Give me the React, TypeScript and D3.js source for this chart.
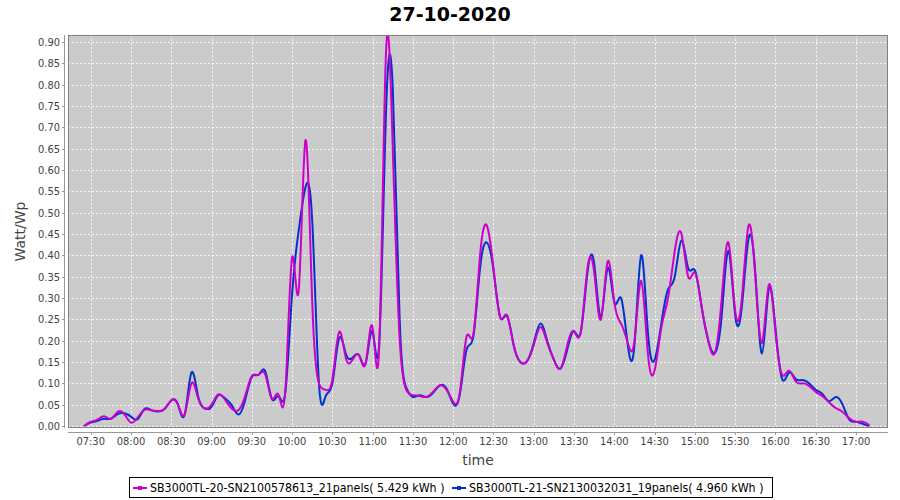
import React from "react";
import * as d3 from "d3";

const times: string[] = [
  "07:25","07:30","07:35","07:40","07:45","07:50","07:55","08:00","08:05","08:10","08:15","08:20","08:25","08:30","08:35","08:40","08:45","08:50","08:55",
  "09:00","09:05","09:10","09:15","09:20","09:25","09:30","09:35","09:40","09:45","09:50","09:55",
  "10:00","10:05","10:10","10:15","10:20","10:25","10:30","10:35","10:40","10:45","10:50","10:55",
  "11:00","11:05","11:10","11:15","11:20","11:25","11:30","11:35","11:40","11:45","11:50","11:55",
  "12:00","12:05","12:10","12:15","12:20","12:25","12:30","12:35","12:40","12:45","12:50","12:55",
  "13:00","13:05","13:10","13:15","13:20","13:25","13:30","13:35","13:40","13:45","13:50","13:55",
  "14:00","14:05","14:10","14:15","14:20","14:25","14:30","14:35","14:40","14:45","14:50","14:55",
  "15:00","15:05","15:10","15:15","15:20","15:25","15:30","15:35","15:40","15:45","15:50","15:55",
  "16:00","16:05","16:10","16:15","16:20","16:25","16:30","16:35","16:40","16:45","16:50","16:55",
  "17:00","17:05","17:10"
];

const seriesMagenta: number[] = [
  0.000,0.010,0.015,0.023,0.017,0.033,0.028,0.008,0.020,0.038,0.037,0.035,0.040,0.060,0.050,0.027,0.100,0.065,0.041,
  0.050,0.074,0.062,0.041,0.037,0.070,0.117,0.120,0.121,0.063,0.073,0.085,
  0.395,0.320,0.670,0.290,0.100,0.085,0.110,0.220,0.160,0.155,0.165,0.150,
  0.230,0.195,0.880,0.650,0.210,0.085,0.072,0.070,0.068,0.080,0.095,0.085,
  0.057,0.080,0.210,0.215,0.400,0.470,0.370,0.255,0.260,0.190,0.150,0.152,
  0.190,0.232,0.195,0.155,0.135,0.190,0.222,0.220,0.370,0.360,0.250,0.385,
  0.290,0.240,0.195,0.200,0.340,0.170,0.130,0.230,0.300,0.410,0.450,0.350,
  0.360,0.280,0.200,0.172,0.300,0.430,0.270,0.300,0.470,0.350,0.195,0.330,
  0.220,0.120,0.130,0.105,0.100,0.094,0.080,0.070,0.055,0.042,0.033,0.018,
  0.010,0.010,0.002
];

const seriesBlue: number[] = [
  0.000,0.008,0.012,0.017,0.017,0.028,0.030,0.022,0.016,0.040,0.037,0.034,0.040,0.060,0.050,0.027,0.125,0.070,0.041,
  0.045,0.072,0.065,0.049,0.027,0.060,0.115,0.120,0.128,0.063,0.070,0.080,
  0.310,0.460,0.560,0.480,0.100,0.070,0.100,0.205,0.170,0.160,0.165,0.150,
  0.220,0.200,0.740,0.790,0.260,0.090,0.068,0.072,0.068,0.078,0.095,0.088,
  0.052,0.075,0.180,0.210,0.370,0.430,0.365,0.255,0.258,0.190,0.150,0.152,
  0.195,0.240,0.200,0.155,0.135,0.180,0.222,0.220,0.360,0.380,0.255,0.370,
  0.290,0.300,0.190,0.190,0.400,0.220,0.155,0.240,0.320,0.350,0.435,0.370,
  0.365,0.280,0.200,0.172,0.260,0.410,0.260,0.280,0.440,0.360,0.170,0.320,
  0.230,0.110,0.125,0.110,0.108,0.100,0.085,0.075,0.058,0.068,0.050,0.015,
  0.010,0.005,0.000
];

const xTickLabels: string[] = [
  "07:30","08:00","08:30","09:00","09:30","10:00","10:30","11:00","11:30","12:00",
  "12:30","13:00","13:30","14:00","14:30","15:00","15:30","16:00","16:30","17:00"
];

const yTicks: number[] = [0,0.05,0.1,0.15,0.2,0.25,0.3,0.35,0.4,0.45,0.5,0.55,0.6,0.65,0.7,0.75,0.8,0.85,0.9];

const seriesNames: string[] = [
  "SB3000TL-20-SN2100578613_21panels( 5.429 kWh )",
  "SB3000TL-21-SN2130032031_19panels( 4.960 kWh )"
];
const seriesColors: string[] = ["#CC00CC", "#0033CC"];

const title = "27-10-2020";
const xLabel = "time";
const yLabel = "Watt/Wp";

const toMin = (s: string) => {
  const [h, m] = s.split(":").map(Number);
  return h * 60 + m;
};

const W = 900, H = 500;
const plot = { left: 68, right: 888, top: 35, bottom: 428 };
const smallFont = "'DejaVu Sans Condensed', 'Liberation Sans', Arial, sans-serif";
const mainFont = "'DejaVu Sans', sans-serif";

export default function App() {
  const x = d3.scaleLinear().domain([toMin("07:30"), toMin("17:00")]).range([90.7, 856]);
  const y = d3.scaleLinear().domain([0, 0.9]).range([426, 42]);

  const line = d3
    .line<[number, number]>()
    .x((d) => x(d[0]))
    .y((d) => y(d[1]))
    .curve(d3.curveNatural);

  const mins = times.map(toMin);
  const mData = mins.map((t, i) => [t, seriesMagenta[i]] as [number, number]);
  const bData = mins.map((t, i) => [t, seriesBlue[i]] as [number, number]);

  const axisX = plot.bottom + 4;
  const axisY = plot.left - 4;

  return (
    <svg width={W} height={H} style={{ position: "absolute", left: 0, top: 0, background: "#fff" }}>
      <defs>
        <clipPath id="plotClip">
          <rect x={plot.left} y={plot.top} width={plot.right - plot.left} height={plot.bottom - plot.top} />
        </clipPath>
      </defs>
      <text x={W / 2} y={21} textAnchor="middle" fontFamily={mainFont} fontWeight="bold" fontSize={19} fill="#000">
        {title}
      </text>
      <rect x={plot.left} y={plot.top} width={plot.right - plot.left} height={plot.bottom - plot.top} fill="#CBCBCB" />
      {yTicks.map((v) => (
        <line key={"gy" + v} x1={plot.left} x2={plot.right} y1={Math.round(y(v)) + 0.5} y2={Math.round(y(v)) + 0.5}
          stroke="#fff" strokeWidth={0.8} strokeDasharray="2,2" />
      ))}
      {xTickLabels.map((s) => (
        <line key={"gx" + s} x1={Math.round(x(toMin(s))) + 0.5} x2={Math.round(x(toMin(s))) + 0.5} y1={plot.top} y2={plot.bottom}
          stroke="#fff" strokeWidth={0.8} strokeDasharray="2,2" />
      ))}
      <g clipPath="url(#plotClip)">
        <path d={line(bData) || ""} fill="none" stroke={seriesColors[1]} strokeWidth={2} strokeLinejoin="round" />
        <path d={line(mData) || ""} fill="none" stroke={seriesColors[0]} strokeWidth={2} strokeLinejoin="round" />
      </g>
      <rect x={plot.left + 0.5} y={plot.top + 0.5} width={plot.right - plot.left - 1} height={plot.bottom - plot.top - 1}
        fill="none" stroke="#808080" strokeWidth={1} />
      {/* y axis */}
      <line x1={axisY + 0.5} x2={axisY + 0.5} y1={plot.top} y2={plot.bottom} stroke="#999" />
      {yTicks.map((v) => (
        <g key={"ty" + v}>
          <line x1={axisY - 2} x2={axisY} y1={Math.round(y(v)) + 0.5} y2={Math.round(y(v)) + 0.5} stroke="#999" />
          <text x={axisY - 4} y={y(v)} dy="0.35em" textAnchor="end" fontFamily={smallFont} fontSize={11} fill="#444">
            {v.toFixed(2)}
          </text>
        </g>
      ))}
      {/* x axis */}
      <line x1={plot.left} x2={plot.right} y1={axisX + 0.5} y2={axisX + 0.5} stroke="#999" />
      {xTickLabels.map((s) => (
        <g key={"tx" + s}>
          <line x1={Math.round(x(toMin(s))) + 0.5} x2={Math.round(x(toMin(s))) + 0.5} y1={axisX} y2={axisX + 3} stroke="#999" />
          <text x={x(toMin(s))} y={445} textAnchor="middle" fontFamily={smallFont} fontSize={11} fill="#444">
            {s}
          </text>
        </g>
      ))}
      <text x={(plot.left + plot.right) / 2} y={465} textAnchor="middle" fontFamily={mainFont} fontSize={14} fill="#444">
        {xLabel}
      </text>
      <text transform={`translate(25, ${(plot.top + plot.bottom) / 2}) rotate(-90)`} textAnchor="middle" fontFamily={mainFont} fontSize={14} fill="#444">
        {yLabel}
      </text>
      {/* legend */}
      <rect x={129.5} y={477.5} width={643} height={20} fill="#fff" stroke="#000" />
      {[0, 1].map((i) => {
        const lx = i === 0 ? 133 : 452;
        return (
          <g key={"lg" + i}>
            <line x1={lx} x2={lx + 14} y1={488} y2={488} stroke={seriesColors[i]} strokeWidth={2} />
            <rect x={lx + 5} y={486} width={4} height={4} fill={seriesColors[i]} />
            <text x={lx + 17} y={492} fontFamily={smallFont} fontSize={12.3} fill="#000">
              {seriesNames[i]}
            </text>
          </g>
        );
      })}
    </svg>
  );
}
